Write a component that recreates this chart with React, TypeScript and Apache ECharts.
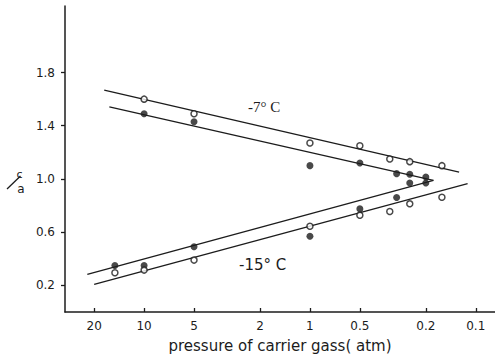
import React, { useEffect, useRef } from "react";
import * as echarts from "echarts";

// pressure of carrier gas (atm) and c/a values
const topOpenP = [10, 5, 1, 0.5, 0.33, 0.25, 0.16];
const topOpenY = [1.6, 1.49, 1.27, 1.25, 1.15, 1.13, 1.1];
const topFilledP = [10, 5, 1, 0.5, 0.3, 0.25, 0.2];
const topFilledY = [1.49, 1.43, 1.1, 1.12, 1.04, 1.035, 1.015];
const botFilledP = [15, 10, 5, 1, 0.5, 0.3, 0.25, 0.2];
const botFilledY = [0.35, 0.35, 0.49, 0.57, 0.775, 0.86, 0.97, 0.97];
const botOpenP = [15, 10, 5, 1, 0.5, 0.33, 0.25, 0.16];
const botOpenY = [0.295, 0.315, 0.39, 0.645, 0.727, 0.755, 0.813, 0.862];

// fitted lines (endpoints)
const topOpenLineP = [17.4, 0.126];
const topOpenLineY = [1.667, 1.051];
const topFilledLineP = [16.2, 0.18];
const topFilledLineY = [1.542, 0.99];
const botFilledLineP = [22, 0.18];
const botFilledLineY = [0.282, 0.989];
const botOpenLineP = [20, 0.112];
const botOpenLineY = [0.207, 0.964];

const xTicks = [20, 10, 5, 2, 1, 0.5, 0.2, 0.1];
const yTicks = [0.2, 0.6, 1.0, 1.4, 1.8];

const INK = "#1c1c1c";

const pts = (p: number[], y: number[]) => p.map((v, i) => [Math.log10(v), y[i]]);

export default function App() {
  const ref = useRef<HTMLDivElement>(null);
  useEffect(() => {
    if (!ref.current) return;
    const chart = echarts.init(ref.current, null, { renderer: "svg" });
    const lineSeries = (p: number[], y: number[]) => ({
      type: "line",
      data: pts(p, y),
      symbol: "none",
      lineStyle: { color: INK, width: 1.3 },
      z: 2,
    });
    const openSeries = (p: number[], y: number[]) => ({
      type: "scatter",
      data: pts(p, y),
      symbol: "circle",
      symbolSize: 6,
      itemStyle: { color: "#fff", borderColor: INK, borderWidth: 1.5 },
      z: 5,
    });
    const filledSeries = (p: number[], y: number[]) => ({
      type: "scatter",
      data: pts(p, y),
      symbol: "circle",
      symbolSize: 7,
      itemStyle: { color: INK },
      z: 5,
    });
    const txt = (text: string, x: number, y: number, font: string, align = "center") => ({
      type: "text",
      x,
      y,
      style: { text, fill: INK, font, align, verticalAlign: "middle" },
    });
    chart.setOption({
      animation: false,
      backgroundColor: "#fff",
      grid: { left: 65, right: 0, top: 6, bottom: 45, outerBoundsMode: "none" },
      xAxis: {
        type: "value",
        inverse: true,
        min: -1.116,
        max: 1.477,
        name: "pressure of carrier gass( atm)",
        nameLocation: "middle",
        nameGap: 26,
        nameTextStyle: { color: INK, fontFamily: "DejaVu Sans", fontSize: 15 },
        axisLine: { onZero: false, lineStyle: { color: INK, width: 1.5 } },
        axisTick: {
          inside: true,
          length: 4,
          customValues: xTicks.map((v) => Math.log10(v)),
          lineStyle: { color: INK, width: 1.3 },
        },
        axisLabel: {
          customValues: xTicks.map((v) => Math.log10(v)),
          formatter: (v: number) => String(Math.round(Math.pow(10, v) * 10) / 10),
          color: INK,
          fontFamily: "DejaVu Sans",
          fontSize: 12,
          margin: 8,
        },
        splitLine: { show: false },
      },
      yAxis: {
        type: "value",
        min: 0,
        max: 2.3,
        axisLine: { show: true, onZero: false, lineStyle: { color: INK, width: 1.5 } },
        axisTick: {
          show: true,
          length: 4,
          customValues: yTicks,
          lineStyle: { color: INK, width: 1.3 },
        },
        axisLabel: {
          customValues: yTicks,
          formatter: (v: number) => v.toFixed(1),
          color: INK,
          fontFamily: "DejaVu Sans",
          fontSize: 12,
          margin: 10,
        },
        splitLine: { show: false },
      },
      graphic: [
        txt("c", 19.5, 174.5, "11px DejaVu Sans"),
        {
          type: "line",
          shape: { x1: 7, y1: 189, x2: 20.5, y2: 176 },
          style: { stroke: INK, lineWidth: 1.3 },
        },
        txt("a", 21, 189, "12px DejaVu Sans"),
        txt("-7° C", 248, 107, "15px Liberation Serif", "left"),
        txt("-15° C", 239, 265, "15px DejaVu Sans", "left"),
      ],
      series: [
        lineSeries(topOpenLineP, topOpenLineY),
        lineSeries(topFilledLineP, topFilledLineY),
        lineSeries(botFilledLineP, botFilledLineY),
        lineSeries(botOpenLineP, botOpenLineY),
        openSeries(topOpenP, topOpenY),
        filledSeries(topFilledP, topFilledY),
        filledSeries(botFilledP, botFilledY),
        openSeries(botOpenP, botOpenY),
      ],
    });
    return () => chart.dispose();
  }, []);
  return (
    <div
      ref={ref}
      style={{ position: "fixed", left: 0, top: 0, width: 495, height: 357 }}
    />
  );
}
